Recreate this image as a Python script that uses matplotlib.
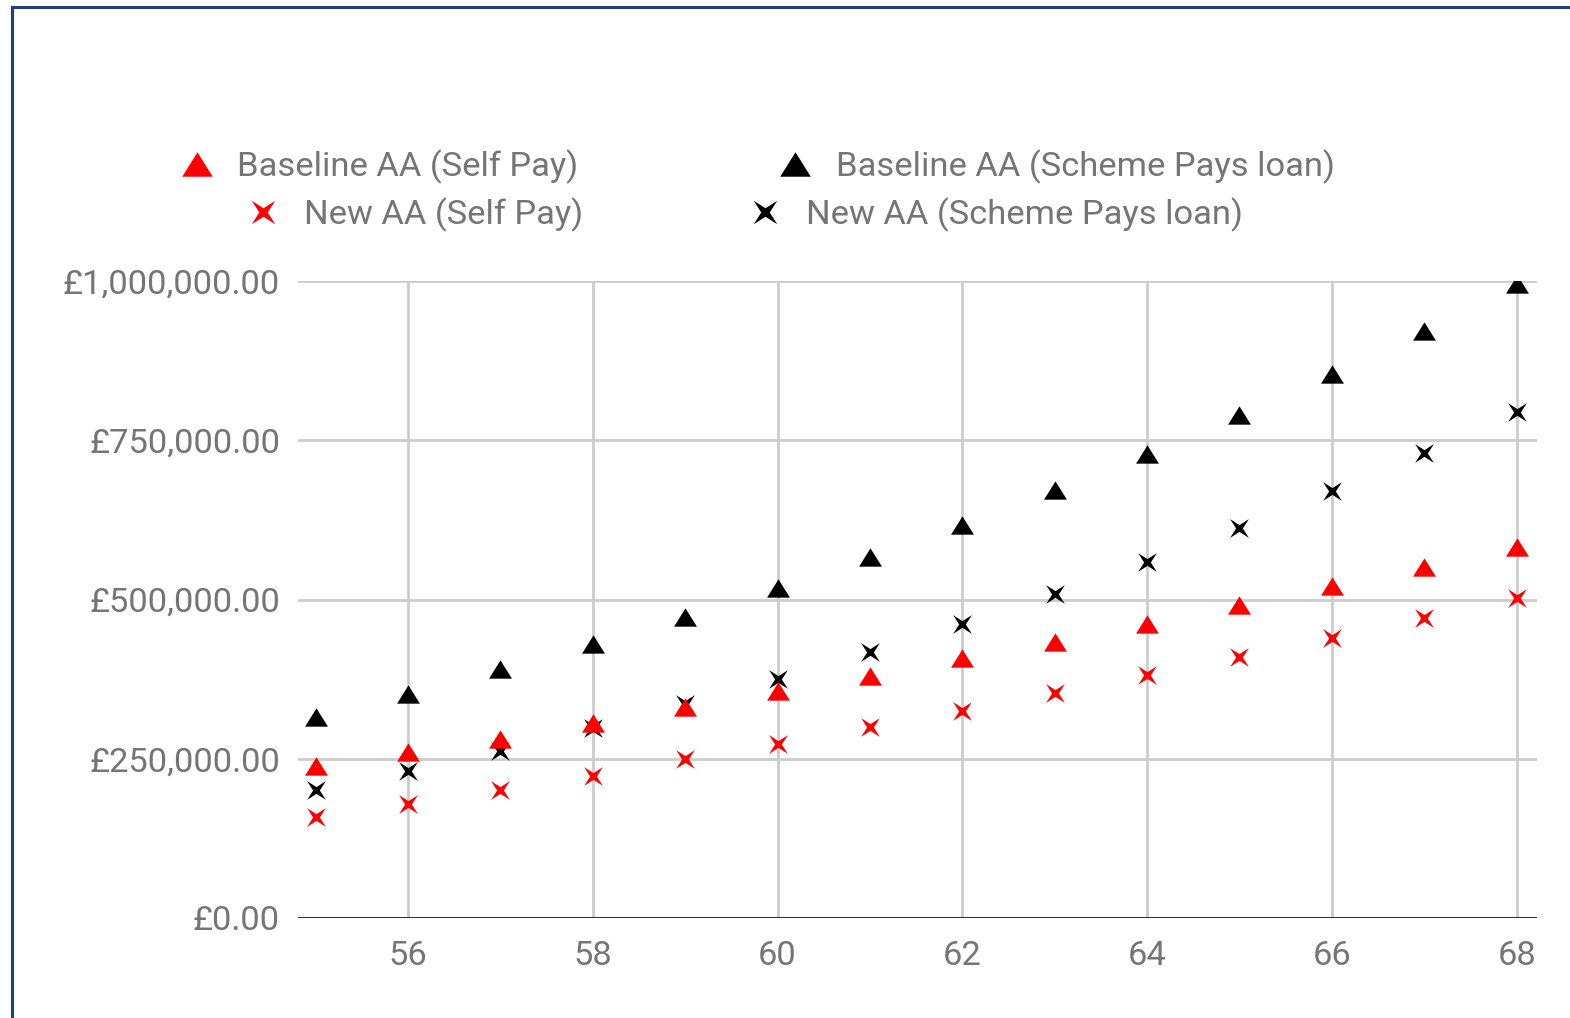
"""Baseline vs new annual allowance, self pay vs scheme pays loan, by age."""

import matplotlib

matplotlib.use("Agg")
import matplotlib.pyplot as plt
from matplotlib.lines import Line2D
from matplotlib.patches import Rectangle
from matplotlib.ticker import FuncFormatter

plt.rcParams["font.family"] = ["Roboto", "DejaVu Sans"]

ages = [55, 56, 57, 58, 59, 60, 61, 62, 63, 64, 65, 66, 67, 68]
baseline_self = [239000, 261000, 281000, 306000, 331000, 356000, 380000,
                 408000, 433000, 462000, 491000, 521000, 551000, 582000]
baseline_scheme = [316000, 352000, 391000, 430000, 472000, 518000, 567000,
                   617000, 672000, 728000, 790000, 854000, 921000, 995000]
new_self = [159000, 179000, 201000, 223000, 250000, 273000, 300000,
            325000, 353000, 381000, 410000, 440000, 471000, 502000]
new_scheme = [201000, 230000, 262000, 299000, 336000, 375000, 418000,
              461000, 509000, 559000, 612000, 670000, 730000, 794000]

x_ticks = [56, 58, 60, 62, 64, 66, 68]
y_ticks = [0, 250000, 500000, 750000, 1000000]

W, H = 1570, 1018
GREY_TEXT = "#757575"
GRID = "#cccccc"

# flattened triangle and a thin four-pointed cross, Google Charts style
TRI = [(-1, -0.8), (1, -0.8), (0, 0.8), (-1, -0.8)]
r = 0.36
STAR = [(1, 1), (0, r), (-1, 1), (-r, 0), (-1, -1), (0, -r), (1, -1), (r, 0), (1, 1)]

fig = plt.figure(figsize=(W / 100, H / 100), dpi=100)
ax = fig.add_axes([298 / W, 1 - 918 / H, (1537 - 298) / W, (918 - 281) / H])

for spine in ax.spines.values():
    spine.set_visible(False)
ax.axhline(0, color="#333333", linewidth=2.2, zorder=3)

series = [
    (baseline_scheme, TRI, "black", 16.5),
    (new_scheme, STAR, "black", 13.5),
    (baseline_self, TRI, "red", 16.5),
    (new_self, STAR, "red", 13.5),
]
for values, marker, color, size in series:
    ax.plot(ages, values, linestyle="none", marker=marker, color=color,
            markersize=size, markeredgewidth=0, zorder=4)

ax.set_xlim(54.81, 68.22)
ax.set_ylim(0, 1000000)
ax.set_xticks(x_ticks)
ax.set_yticks(y_ticks)
ax.yaxis.set_major_formatter(FuncFormatter(lambda v, _: f"£{v:,.2f}"))
ax.grid(True, color=GRID, linewidth=2, zorder=0)
ax.set_axisbelow(True)
ax.tick_params(length=0, labelsize=24.8, labelcolor=GREY_TEXT)
ax.tick_params(axis="y", pad=13)
ax.tick_params(axis="x", pad=16)

# legend, laid out by hand to match the two offset rows
legend_items = [
    (197, 164, TRI, "red", 22, 237, "Baseline AA (Self Pay)"),
    (263, 212, STAR, "red", 17, 304, "New AA (Self Pay)"),
    (795, 164, TRI, "black", 22, 836, "Baseline AA (Scheme Pays loan)"),
    (765, 212, STAR, "black", 17, 806, "New AA (Scheme Pays loan)"),
]
for mx, my, marker, color, size, tx, label in legend_items:
    fig.add_artist(Line2D([mx / W], [1 - my / H], transform=fig.transFigure,
                          linestyle="none", marker=marker, color=color,
                          markersize=size, markeredgewidth=0))
    fig.text(tx / W, 1 - (my + 3) / H, label, fontsize=24.8, color=GREY_TEXT,
             ha="left", va="center")

fig.add_artist(Rectangle((12 / W, -0.05), 1.2, 1 - 7 / H + 0.05,
                         transform=fig.transFigure, fill=False,
                         edgecolor="#22407a", linewidth=2.2))

fig.savefig("out.png", dpi=100)
